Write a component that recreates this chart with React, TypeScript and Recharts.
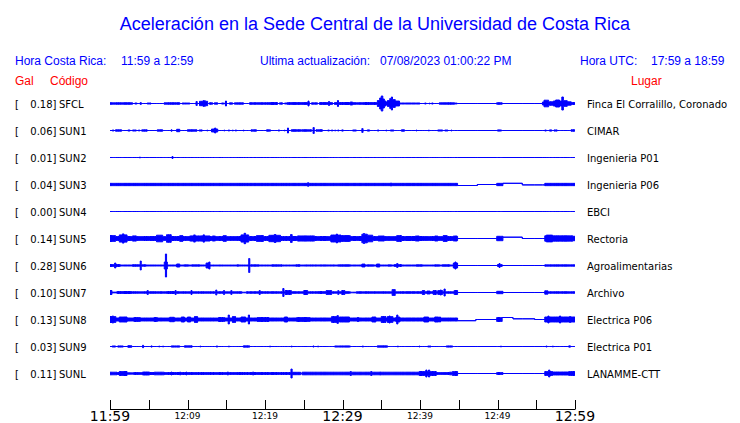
import React from 'react';
import { ComposedChart, Area, XAxis, YAxis } from 'recharts';

type Seg = [number, number, number, number?];

const CODES = ['SFCL', 'SUN1', 'SUN2', 'SUN3', 'SUN4', 'SUN5', 'SUN6', 'SUN7', 'SUN8', 'SUN9', 'SUNL'];
const PEAK_GAL = [0.18, 0.06, 0.01, 0.04, 0.0, 0.14, 0.28, 0.1, 0.13, 0.03, 0.11];
const PLACES = [
  'Finca El Corralillo, Coronado', 'CIMAR', 'Ingenieria P01', 'Ingenieria P06', 'EBCI', 'Rectoria',
  'Agroalimentarias', 'Archivo', 'Electrica P06', 'Electrica P01', 'LANAMME-CTT',
];
const TIME_TICKS = [0, 5, 10, 15, 20, 25, 30, 35, 40, 45, 50, 55, 60];
const TIME_LABELS = ['11:59', '', '12:09', '', '12:19', '', '12:29', '', '12:39', '', '12:49', '', '12:59'];
const MAJOR_TICK = [true, false, false, false, false, false, true, false, false, false, false, false, true];

// segments: [start minute, end minute, half amplitude, baseline shift]
const SFCL: Seg[] = [
  [0.0, 2.9, 0.8], [3.2, 3.5, 0.5], [3.9, 4.03, 1.0], [4.8, 5.3, 0.5], [7.0, 9.0, 0.8], [9.3, 10.3, 0.5],
  [11.1, 11.25, 2.0], [11.55, 12.6, 2.2], [12.0, 12.3, 2.8], [12.84, 13.23, 0.8], [13.48, 13.87, 0.8],
  [14.39, 14.77, 0.5], [14.9, 15.03, 2.5], [15.42, 15.81, 0.7], [16.06, 17.23, 0.7], [18.0, 20.58, 0.8],
  [20.58, 21.61, 1.0], [21.87, 22.26, 0.7], [22.52, 22.9, 0.5], [22.9, 25.74, 0.9], [25.55, 25.68, 2.5],
  [26.0, 26.77, 0.7], [27.03, 28.71, 0.9], [28.2, 28.33, 2.0], [28.97, 31.0, 1.0], [29.35, 29.48, 3.0],
  [31.0, 31.3, 1.5], [31.3, 32.6, 0.8], [32.6, 34.5, 1.0], [34.5, 34.8, 3.0], [34.8, 35.0, 5.5],
  [35.0, 35.2, 7.5], [35.2, 35.4, 4.5], [35.4, 35.6, 2.5], [35.6, 35.8, 1.5], [35.8, 36.1, 3.0],
  [36.1, 36.3, 5.0], [36.3, 36.45, 6.5], [36.45, 36.8, 4.0], [36.8, 37.35, 2.5], [37.35, 40.0, 0.5],
  [40.6, 40.8, 0.5], [41.2, 41.3, 0.5], [41.5, 41.7, 0.5], [42.5, 44.45, 0.8], [44.5, 44.8, 0.4],
  [49.9, 50.6, 0.8], [55.8, 56.0, 1.5], [56.0, 56.6, 3.3], [56.6, 57.2, 1.8], [57.2, 57.5, 2.5],
  [57.5, 58.0, 3.5], [58.0, 58.3, 2.5], [58.3, 58.5, 6.5], [58.5, 59.0, 2.8], [59.0, 59.5, 1.8], [59.5, 60, 1.0],
];
const SUN1: Seg[] = [
  [0.3, 0.5, 0.5], [0.7, 1.5, 0.7], [2.3, 2.6, 0.5], [2.9, 3.4, 0.5], [3.7, 3.8, 0.6], [4.1, 4.8, 0.7],
  [6.1, 6.8, 0.7], [7.9, 8.0, 0.8], [8.6, 9.0, 1.2], [10.0, 11.2, 0.8], [11.5, 11.9, 0.6], [12.5, 12.6, 0.5],
  [13.1, 13.9, 1.5], [13.5, 13.65, 2.5], [14.7, 14.8, 0.5], [15.3, 15.4, 0.6], [15.8, 15.9, 0.5],
  [16.2, 16.3, 0.6], [17.2, 17.3, 0.5], [18.2, 18.9, 0.7], [20.2, 20.7, 0.7], [21.7, 21.9, 0.5],
  [22.5, 22.6, 0.5], [22.9, 23.03, 2.5], [23.4, 24.7, 0.8], [24.8, 26.0, 0.8], [26.2, 26.35, 3.0],
  [26.6, 27.4, 0.8], [28.1, 28.3, 0.5], [28.6, 28.7, 0.6], [29.0, 29.1, 0.5], [29.4, 29.5, 0.6],
  [29.9, 30.1, 0.6], [31.3, 31.8, 0.5], [32.5, 32.65, 2.0], [33.2, 33.5, 0.6], [34.5, 34.7, 0.5],
  [35.6, 35.7, 0.5], [36.2, 36.6, 0.6], [37.6, 38.0, 0.7], [39.5, 39.6, 0.5], [41.1, 41.2, 0.5],
  [42.3, 42.9, 0.6], [43.2, 43.6, 0.5], [44.0, 44.1, 0.5], [50.0, 50.5, 0.6], [56.1, 56.3, 0.5],
  [56.7, 57.0, 0.6], [57.3, 57.7, 0.6], [59.5, 59.95, 0.8],
];
const SUN2: Seg[] = [[3.8, 3.93, 0.4], [8.0, 8.13, 1.0]];
const SUN3: Seg[] = [
  [0, 44.85, 1.15], [25.5, 25.63, 1.8], [36.2, 36.33, 1.5], [44.85, 47.4, 0, 1.0], [47.4, 49.9, 0, 0],
  [49.9, 50.7, 1.15, 0], [50.7, 53.2, 0, -1.2], [53.2, 56.1, 0, 0.4], [56.1, 60, 1.15],
];
const SUN4: Seg[] = [];
const SUN5: Seg[] = [
  [0, 44.85, 2.0], [0, 0.7, 3.0], [1.2, 2.2, 3.6], [1.6, 1.8, 4.6], [2.9, 3.4, 2.6], [6.0, 6.8, 3.3],
  [7.3, 7.9, 3.8], [9.0, 9.4, 2.9], [10.3, 12.9, 2.6], [10.8, 11.0, 3.6], [12.0, 12.2, 3.6],
  [13.2, 13.6, 2.5], [14.6, 15.0, 2.9], [16.9, 17.9, 3.6], [17.3, 17.5, 5.2], [18.9, 19.8, 2.9],
  [20.5, 22.0, 3.2], [21.2, 21.4, 4.0], [23.3, 23.5, 4.0], [24.2, 26.4, 2.6], [28.5, 29.8, 3.5],
  [29.2, 29.35, 4.4], [29.8, 31.0, 2.9], [32.5, 33.2, 4.3], [32.7, 32.85, 5.0], [33.2, 33.9, 3.3],
  [34.6, 35.4, 2.5], [37.0, 37.6, 3.0], [39.4, 39.9, 2.5], [41.9, 42.3, 2.5], [43.0, 43.5, 3.0],
  [44.3, 44.8, 2.5], [49.9, 50.7, 2.2, 0], [50.7, 53.2, 0, -1.3], [56.1, 59.7, 2.7], [56.3, 57.1, 3.4],
  [59.7, 60, 2.2],
];
const SUN6: Seg[] = [
  [0, 44.85, 0.5], [0, 1.3, 1.0], [0.6, 0.75, 2.5], [2.9, 3.8, 0.8], [3.9, 4.03, 4.5], [4.03, 4.6, 0.8],
  [7.0, 7.4, 3.5], [7.15, 7.3, 11.5], [8.6, 9.0, 1.5], [9.6, 10.1, 0.7], [10.6, 11.6, 0.7],
  [12.4, 12.9, 2.5], [12.75, 12.9, 3.5], [14.2, 15.7, 0.5], [16.4, 16.6, 0.7], [17.9, 18.04, 7.0],
  [18.2, 19.2, 0.7], [19.9, 20.5, 0.5], [20.9, 22.2, 0.7], [22.6, 23.4, 0.5], [24.0, 24.5, 0.8],
  [25.3, 29.0, 0.6], [29.4, 31.0, 0.7], [32.5, 32.9, 1.5], [33.2, 34.0, 0.7], [34.4, 34.8, 1.5],
  [35.9, 36.3, 0.7], [36.7, 37.6, 1.0], [37.0, 37.15, 2.0], [38.1, 38.9, 0.5], [39.5, 40.3, 0.7],
  [40.6, 41.5, 0.5], [41.9, 42.5, 0.7], [42.9, 43.8, 0.8], [44.3, 44.85, 2.5], [44.5, 44.65, 3.5],
  [50.0, 50.6, 1.0], [50.2, 50.33, 2.0], [56.1, 60, 0.7],
];
const SUN7: Seg[] = [
  [0, 44.85, 0.8], [0, 0.25, 2.0], [0.25, 0.9, 0.4], [0.9, 2.8, 1.0], [4.8, 4.93, 2.0], [7.3, 8.3, 1.0],
  [8.4, 8.53, 2.0], [10.45, 10.58, 2.0], [13.65, 13.78, 2.5], [14.65, 14.78, 2.0], [15.6, 15.73, 2.0],
  [17.0, 17.6, 0.3], [19.25, 19.38, 2.0], [22.3, 22.45, 4.0], [22.6, 23.4, 2.0], [25.0, 25.5, 2.0],
  [26.8, 27.4, 1.0], [27.9, 28.6, 2.0], [29.4, 29.53, 2.0], [29.9, 30.3, 2.0], [31.0, 31.8, 0.3],
  [36.4, 36.8, 3.0], [40.3, 40.6, 2.0], [40.9, 41.3, 1.5], [41.7, 42.1, 2.0], [42.3, 42.9, 2.0],
  [42.6, 42.75, 2.5], [43.1, 43.25, 3.5], [44.4, 44.85, 2.0], [49.9, 50.7, 1.2], [56.1, 60, 0.8],
  [56.1, 56.5, 1.7],
];
const SUN8: Seg[] = [
  [0, 44.85, 1.5], [0, 0.75, 3.0], [0.3, 0.45, 3.5], [1.2, 2.2, 2.5], [3.1, 3.9, 2.0], [5.7, 6.1, 2.0],
  [7.7, 8.3, 2.2], [9.2, 9.6, 2.5], [10.0, 10.4, 2.5], [10.9, 11.3, 3.0], [14.0, 14.8, 2.0],
  [15.25, 15.4, 4.5], [15.8, 16.2, 3.0], [16.9, 17.5, 2.5], [17.85, 18.0, 4.5], [19.0, 20.5, 2.0],
  [22.5, 22.9, 2.5], [24.1, 25.8, 2.0], [28.6, 29.5, 3.0], [29.3, 29.45, 4.0], [29.6, 30.9, 2.5],
  [31.9, 32.1, 2.0], [33.8, 34.3, 2.5], [35.0, 35.6, 3.0], [35.8, 36.5, 3.0], [36.0, 36.15, 3.5],
  [36.9, 37.4, 2.5], [37.0, 37.15, 4.5], [40.5, 41.1, 2.5], [41.9, 42.4, 2.5], [42.5, 42.65, 2.5],
  [44.85, 47.2, 0, 1.2], [49.9, 50.6, 2.0, 0], [50.6, 52.0, 0, -2.0], [52.0, 54.8, 0, -0.7],
  [56.1, 60, 2.5], [56.5, 56.65, 3.5], [58.0, 58.15, 3.5], [59.3, 59.45, 3.0],
];
const SUN9: Seg[] = [
  [0.3, 0.7, 0.6], [1.0, 1.7, 0.6], [2.3, 2.8, 0.8], [4.2, 4.33, 1.2], [5.3, 5.43, 0.6], [6.3, 6.4, 0.5],
  [6.8, 6.9, 0.5], [7.9, 9.0, 0.6], [9.6, 10.6, 0.7], [11.6, 11.7, 0.5], [13.7, 13.9, 0.5],
  [15.3, 15.4, 0.5], [17.2, 18.0, 0.7], [20.6, 20.7, 0.5], [23.4, 23.5, 0.5], [26.2, 26.3, 0.6],
  [26.8, 26.9, 0.5], [29.0, 31.0, 0.6], [32.55, 32.7, 0.5], [34.5, 35.8, 0.7], [37.1, 37.2, 0.5],
  [39.9, 40.0, 0.5], [41.0, 41.4, 0.5], [43.4, 44.2, 0.6], [50.4, 50.5, 0.5], [56.25, 56.4, 0.5],
  [57.1, 57.2, 0.5], [59.2, 59.4, 0.7],
];
const SUNL: Seg[] = [
  [0, 44.85, 1.0], [0, 0.9, 1.3], [1.2, 2.2, 2.0], [2.2, 3.1, 0.7], [4.2, 5.1, 1.5], [5.7, 7.0, 1.3],
  [7.3, 10.8, 1.0], [7.9, 8.0, 1.5], [9.0, 9.1, 1.5], [9.8, 9.9, 1.5], [15.15, 15.28, 1.5],
  [18.4, 18.53, 1.5], [23.35, 23.5, 4.5], [23.5, 24.6, 1.2], [24.6, 24.8, 0.3], [24.8, 44.85, 1.3],
  [31.0, 31.13, 2.0], [33.65, 33.78, 2.0], [34.8, 34.93, 1.5], [39.9, 42.1, 2.0], [40.75, 40.9, 3.5],
  [41.1, 41.25, 3.5], [42.1, 43.8, 1.0], [44.2, 44.85, 2.0], [49.9, 50.7, 1.0], [56.1, 60, 1.5],
  [56.1, 57.1, 2.0], [56.6, 56.75, 3.5], [59.2, 60, 2.0],
];

const TRACES: Seg[][] = [SFCL, SUN1, SUN2, SUN3, SUN4, SUN5, SUN6, SUN7, SUN8, SUN9, SUNL];
const TRACE_STEP = 27;
const ROW_VALUES = TRACES.map((_, i) => i * TRACE_STEP);

const BLUE = '#0000ff';
const RED = '#ff0000';

function buildTable() {
  const set = new Set<number>([0, 60]);
  TRACES.forEach((segs) => segs.forEach((s) => { set.add(s[0]); set.add(s[1]); }));
  const times = Array.from(set).sort((a, b) => a - b);
  return times.map((t) => {
    const row: Record<string, any> = { t };
    TRACES.forEach((segs, i) => {
      let a = 0;
      let o = 0;
      for (const s of segs) {
        if (t >= s[0] && t < s[1]) { a = s[2]; o = s[3] ?? 0; }
      }
      const c = ROW_VALUES[i] + o;
      row['s' + i] = [c - a, c + a];
    });
    return row;
  });
}
const TABLE = buildTable();

function TimeTick(props: any) {
  const { x, y, payload } = props;
  const i = TIME_TICKS.indexOf(payload.value);
  const px = Math.round(x) + 0.5;
  const label = TIME_LABELS[i];
  const major = MAJOR_TICK[i];
  return (
    <g>
      <line x1={px} x2={px} y1={y - 9.5} y2={y} stroke="#000" strokeWidth={1} />
      {label ? (
        <text x={x} y={major ? y + 11.5 : y + 9} textAnchor="middle" fontSize={major ? 14 : 9}
          fontFamily="DejaVu Sans" fill="#000">{label}</text>
      ) : null}
    </g>
  );
}

function LeftTick(props: any) {
  const { y, payload } = props;
  const i = ROW_VALUES.indexOf(payload.value);
  if (i < 0) return <g />;
  const by = y + 4;
  return (
    <g fontFamily="DejaVu Sans" fontSize={10} fill="#000">
      <text x={15} y={by}>[</text>
      <text x={56.5} y={by} textAnchor="end">{PEAK_GAL[i].toFixed(2) + ']'}</text>
      <text x={59} y={by}>{CODES[i]}</text>
    </g>
  );
}

function RightTick(props: any) {
  const { y, payload } = props;
  const i = ROW_VALUES.indexOf(payload.value);
  if (i < 0) return <g />;
  return (
    <text x={587} y={y + 4} fontFamily="DejaVu Sans" fontSize={10} fill="#000">{PLACES[i]}</text>
  );
}

export default function App() {
  const domain: [number, number] = [-TRACE_STEP, TRACE_STEP * 11.3333];
  return (
    <div style={{ position: 'absolute', left: 0, top: 0, width: 740, height: 423, background: '#fff' }}>
      <ComposedChart width={740} height={423} data={TABLE} margin={{ top: 76.5, right: 0, bottom: 0, left: 0 }}>
        <XAxis dataKey="t" type="number" domain={[0, 60]} ticks={TIME_TICKS} interval={0} height={13.5}
          tickLine={false} tickSize={0} tickMargin={0} axisLine={{ stroke: '#000', strokeWidth: 1 }}
          tick={TimeTick} allowDataOverflow />
        <YAxis yAxisId="l" orientation="left" width={110} type="number" domain={domain} reversed
          allowDataOverflow ticks={ROW_VALUES} interval={0} axisLine={false} tickLine={false} tick={LeftTick} />
        <YAxis yAxisId="r" orientation="right" width={165} type="number" domain={domain} reversed
          allowDataOverflow ticks={ROW_VALUES} interval={0} axisLine={false} tickLine={false} tick={RightTick} />
        {TRACES.map((_, i) => (
          <Area key={i} yAxisId="l" dataKey={'s' + i} type="stepAfter" stroke={BLUE} strokeWidth={1}
            fill={BLUE} fillOpacity={1} isAnimationActive={false} dot={false} activeDot={false} />
        ))}
      </ComposedChart>
      <svg width={740} height={423} style={{ position: 'absolute', left: 0, top: 0, pointerEvents: 'none' }}>
        <text x={375} y={30} textAnchor="middle" fontFamily="Liberation Sans" fontSize={18} fill={BLUE}>
          Aceleración en la Sede Central de la Universidad de Costa Rica
        </text>
        <g fontFamily="Liberation Sans" fontSize={12} fill={BLUE}>
          <text x={15} y={65}>Hora Costa Rica:</text>
          <text x={121} y={65}>11:59 a 12:59</text>
          <text x={260} y={65}>Ultima actualización:</text>
          <text x={380} y={65}>07/08/2023 01:00:22 PM</text>
          <text x={580} y={65}>Hora UTC:</text>
          <text x={651} y={65}>17:59 a 18:59</text>
        </g>
        <g fontFamily="Liberation Sans" fontSize={12} fill={RED}>
          <text x={15} y={85}>Gal</text>
          <text x={50} y={85}>Código</text>
          <text x={631} y={85}>Lugar</text>
        </g>
      </svg>
    </div>
  );
}
